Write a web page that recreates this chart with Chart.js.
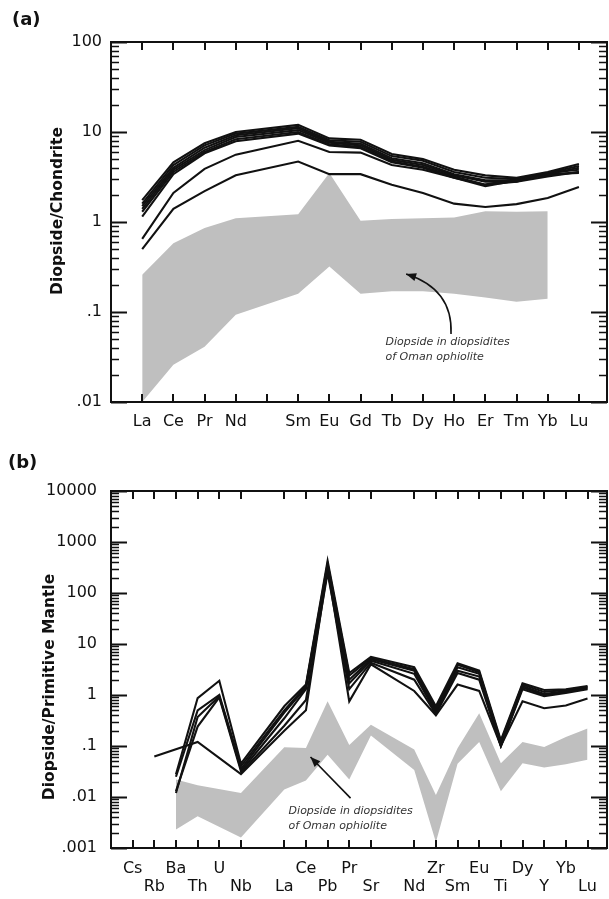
<!DOCTYPE html>
<html><head><meta charset="utf-8">
<script src="https://cdn.jsdelivr.net/npm/chart.js@4/dist/chart.umd.min.js"></script>
<style>
html,body{margin:0;padding:0;background:#fff;}
#wrap{position:relative;width:609px;height:899px;overflow:hidden;}
.box{position:absolute;left:0;width:609px;}
</style></head><body>
<div id="wrap">
<div class="box" style="top:0;height:450px"><canvas id="ca" width="609" height="450"></canvas></div>
<div class="box" style="top:450px;height:449px"><canvas id="cb" width="609" height="449"></canvas></div>
</div>
<script>
// ---------- Panel (a): chondrite-normalised REE ----------
const reeCategories = ['La','Ce','Pr','Nd','Pm','Sm','Eu','Gd','Tb','Dy','Ho','Er','Tm','Yb','Lu'];
const reeTickLabels = ['La','Ce','Pr','Nd','','Sm','Eu','Gd','Tb','Dy','Ho','Er','Tm','Yb','Lu'];
const reeYTicks = [0.01, 0.1, 1, 10, 100];
const reeYTickLabels = ['.01', '.1', '1', '10', '100'];
const ree1 = [1.75, 4.6, 7.5, 10.0, null, 12.0, 8.5, 8.2, 5.7, 5.0, 3.8, 3.3, 3.1, 3.6, 4.4];
const ree2 = [1.6, 4.3, 7.1, 9.6, null, 11.4, 8.1, 7.8, 5.4, 4.8, 3.6, 3.1, 3.0, 3.5, 4.2];
const ree3 = [1.5, 4.0, 6.7, 9.2, null, 11.0, 7.8, 7.4, 5.1, 4.5, 3.4, 2.9, 2.9, 3.4, 4.0];
const ree4 = [1.4, 3.8, 6.3, 8.8, null, 10.5, 7.6, 7.1, 4.9, 4.3, 3.3, 2.8, 2.8, 3.5, 3.8];
const ree5 = [1.3, 3.6, 6.0, 8.3, null, 10.0, 7.3, 6.8, 4.7, 4.1, 3.2, 2.6, 3.0, 3.3, 3.6];
const ree6 = [1.15, 3.4, 5.8, 7.9, null, 9.6, 7.1, 6.6, 4.6, 4.0, 3.1, 2.5, 2.9, 3.4, 3.5];
const ree7 = [0.65, 2.1, 3.9, 5.6, null, 8.0, 6.0, 5.9, 4.3, 3.8, 3.1, 2.6, 2.8, 3.2, 3.6];
const ree8 = [0.5, 1.4, 2.2, 3.3, null, 4.7, 3.4, 3.4, 2.6, 2.1, 1.6, 1.47, 1.58, 1.85, 2.45];
const reeBandUpper = [0.26, 0.58, 0.86, 1.1, null, 1.22, 3.5, 1.03, 1.08, 1.1, 1.12, 1.32, 1.3, 1.32, null];
const reeBandLower = [0.01, 0.026, 0.041, 0.093, null, 0.16, 0.32, 0.16, 0.17, 0.17, 0.16, 0.145, 0.13, 0.14, null];

// ---------- Panel (b): primitive-mantle-normalised spider ----------
const pmCategories = ['Cs','Rb','Ba','Th','U','Nb','','La','Ce','Pb','Pr','Sr','','Nd','Zr','Sm','Eu','Ti','Dy','Y','Yb','Lu'];
const pmLabelRow = [1,2,1,2,1,2,0,2,1,2,1,2,0,2,1,2,1,2,1,2,1,2];
const pmYTicks = [0.001, 0.01, 0.1, 1, 10, 100, 1000, 10000];
const pmYTickLabels = ['.001', '.01', '.1', '1', '10', '100', '1000', '10000'];
const pm1 = [null, null, 0.028, 0.87, 1.9, 0.045, null, 0.6, 1.6, 430, 2.7, 5.6, null, 3.5, 0.6, 4.2, 3.0, 0.13, 1.7, 1.25, 1.3, 1.5];
const pm2 = [null, null, 0.025, 0.5, 1.0, 0.04, null, 0.5, 1.5, 380, 2.4, 5.3, null, 3.2, 0.55, 3.9, 2.8, 0.12, 1.6, 1.15, 1.25, 1.45];
const pm3 = [null, null, 0.012, 0.37, 0.95, 0.035, null, 0.45, 1.4, 330, 2.0, 5.0, null, 3.0, 0.5, 3.5, 2.6, 0.11, 1.5, 1.05, 1.2, 1.4];
const pm4 = [null, null, 0.013, 0.24, 0.9, 0.032, null, 0.35, 1.3, 290, 1.7, 4.7, null, 2.6, 0.45, 3.0, 2.3, 0.1, 1.4, 1.0, 1.15, 1.35];
const pm5 = [null, null, null, null, null, 0.03, null, 0.25, 0.8, 250, 1.3, 4.3, null, 2.0, 0.42, 2.7, 2.0, 0.1, 1.3, 0.95, 1.1, 1.3];
const pm6 = [null, 0.062, null, 0.12, null, 0.028, null, 0.2, 0.5, 300, 0.75, 4.0, null, 1.2, 0.4, 1.6, 1.2, 0.1, 0.75, 0.55, 0.62, 0.85];
const pmBandUpper = [null, null, 0.022, 0.017, null, 0.012, null, 0.095, 0.091, 0.75, 0.105, 0.26, null, 0.085, 0.011, 0.09, 0.44, 0.046, 0.12, 0.096, 0.15, 0.22];
const pmBandLower = [null, null, 0.0023, 0.0042, null, 0.0016, null, 0.014, 0.021, 0.067, 0.022, 0.16, null, 0.034, 0.0013, 0.045, 0.12, 0.013, 0.046, 0.038, 0.044, 0.054];

const noteLines = ['Diopside in diopsidites', 'of Oman ophiolite'];

// ---------- helpers ----------
const FONT = '"DejaVu Sans", "Liberation Sans", Arial, sans-serif';
const INK = '#111111';
const BAND = '#bfbfbf';

function pts(arr) { return arr.map((v, i) => ({x: i, y: v})); }

function lineSet(arrays) {
  return arrays.map(a => ({
    data: pts(a), borderColor: INK, borderWidth: 2.1, pointRadius: 0,
    tension: 0, spanGaps: true, fill: false, order: 0
  }));
}
function bandSet(upper, lower) {
  return [
    {data: pts(upper), borderWidth: 0, borderColor: 'rgba(0,0,0,0)', backgroundColor: BAND,
     pointRadius: 0, tension: 0, spanGaps: true, fill: '+1', order: 5},
    {data: pts(lower), borderWidth: 0, borderColor: 'rgba(0,0,0,0)', backgroundColor: BAND,
     pointRadius: 0, tension: 0, spanGaps: true, fill: false, order: 5}
  ];
}

const frameTicks = {
  id: 'frameTicks',
  afterDatasetsDraw(chart, args, o) {
    const {ctx, chartArea: a} = chart;
    const x = chart.scales.x, y = chart.scales.y;
    ctx.save();
    ctx.strokeStyle = INK;
    ctx.lineCap = 'butt';
    ctx.lineWidth = 2;
    ctx.beginPath();
    o.xTicks.forEach(v => {
      const px = Math.round(x.getPixelForValue(v));
      ctx.moveTo(px, a.bottom); ctx.lineTo(px, a.bottom - o.xLen);
      ctx.moveTo(px, a.top); ctx.lineTo(px, a.top + o.xLen);
    });
    ctx.stroke();
    const lo = Math.round(Math.log10(y.min)), hi = Math.round(Math.log10(y.max));
    for (let e = lo; e <= hi; e++) {
      for (let m = 1; m <= 9; m++) {
        const v = m * Math.pow(10, e);
        if (v > y.max * 1.0001) break;
        const py = Math.round(y.getPixelForValue(v)) + 0.5;
        const major = m === 1;
        const len = major ? o.majorLen : o.minorLen;
        ctx.lineWidth = major ? 2 : 1.6;
        ctx.beginPath();
        ctx.moveTo(a.left, py); ctx.lineTo(a.left + len, py);
        ctx.moveTo(a.right, py); ctx.lineTo(a.right - len, py);
        ctx.stroke();
      }
    }
    ctx.lineWidth = 2;
    ctx.strokeRect(a.left, a.top, a.right - a.left, a.bottom - a.top);
    ctx.restore();
  }
};

const panelText = {
  id: 'panelText',
  afterDraw(chart, args, o) {
    const ctx = chart.ctx;
    const x = chart.scales.x, y = chart.scales.y;
    ctx.save();
    ctx.fillStyle = INK;
    ctx.textBaseline = 'middle';
    ctx.textAlign = 'left';
    ctx.font = 'bold 18px ' + FONT;
    ctx.fillText(o.panel, o.panelX, o.panelY);
    // axis title
    ctx.save();
    ctx.translate(o.titleX, o.titleY);
    ctx.rotate(-Math.PI / 2);
    ctx.textAlign = 'center';
    ctx.font = 'bold 15.5px ' + FONT;
    ctx.fillText(o.title, 0, 0);
    ctx.restore();
    // note text
    ctx.fillStyle = '#333';
    ctx.font = 'italic 11px ' + FONT;
    const tx = x.getPixelForValue(o.noteX);
    const ty = y.getPixelForValue(o.noteY);
    noteLines.forEach((t, i) => ctx.fillText(t, tx, ty + i * 15));
    // arrow
    const ax0 = x.getPixelForValue(o.arrowFrom[0]), ay0 = y.getPixelForValue(o.arrowFrom[1]);
    const ax1 = x.getPixelForValue(o.arrowTo[0]), ay1 = y.getPixelForValue(o.arrowTo[1]);
    const cx = ax0 + o.bend[0], cy = ay0 + o.bend[1];
    ctx.strokeStyle = INK;
    ctx.fillStyle = INK;
    ctx.lineWidth = 1.6;
    ctx.beginPath();
    ctx.moveTo(ax0, ay0);
    if (o.curved) ctx.quadraticCurveTo(cx, cy, ax1, ay1); else ctx.lineTo(ax1, ay1);
    ctx.stroke();
    const fx = o.curved ? cx : ax0, fy = o.curved ? cy : ay0;
    const ang = Math.atan2(ay1 - fy, ax1 - fx);
    const L = 10, W = 4;
    ctx.beginPath();
    ctx.moveTo(ax1, ay1);
    ctx.lineTo(ax1 - L * Math.cos(ang) + W * Math.sin(ang), ay1 - L * Math.sin(ang) - W * Math.cos(ang));
    ctx.lineTo(ax1 - L * Math.cos(ang) - W * Math.sin(ang), ay1 - L * Math.sin(ang) + W * Math.cos(ang));
    ctx.closePath();
    ctx.fill();
    ctx.restore();
  }
};

function makeChart(canvasId, cfg) {
  return new Chart(document.getElementById(canvasId), {
    type: 'line',
    data: {datasets: [...lineSet(cfg.lines), ...bandSet(cfg.bandUpper, cfg.bandLower)]},
    plugins: [frameTicks, panelText],
    options: {
      responsive: false,
      animation: false,
      devicePixelRatio: 1,
      layout: {padding: {top: cfg.top, right: 2, left: 0, bottom: 0}},
      plugins: {
        legend: {display: false},
        tooltip: {enabled: false},
        frameTicks: {xTicks: cfg.xTickValues, xLen: 8, majorLen: 16, minorLen: 8},
        panelText: cfg.text
      },
      scales: {
        x: {
          type: 'linear', min: -1, max: cfg.xMax,
          grid: {display: false, drawTicks: false},
          border: {display: false},
          afterBuildTicks: s => { s.ticks = cfg.xTickValues.map(v => ({value: v})); },
          afterFit: s => { s.height = cfg.xHeight; },
          ticks: {
            autoSkip: false, maxRotation: 0, minRotation: 0,
            padding: cfg.xPad, color: INK,
            font: {family: FONT, size: 16, lineHeight: cfg.xLineHeight},
            callback: cfg.xLabel
          }
        },
        y: {
          type: 'logarithmic', min: cfg.yTicks[0], max: cfg.yTicks[cfg.yTicks.length - 1],
          grid: {display: false, drawTicks: false},
          border: {display: false},
          afterBuildTicks: s => { s.ticks = cfg.yTicks.map(v => ({value: v, major: true})); },
          afterFit: s => { s.width = 111; },
          ticks: {
            padding: cfg.yPad, color: INK,
            font: {family: FONT, size: 16},
            callback: v => {
              const i = cfg.yTicks.findIndex(t => Math.abs(Math.log10(t) - Math.log10(v)) < 1e-6);
              return i >= 0 ? cfg.yLabels[i] : '';
            }
          }
        }
      }
    }
  });
}

makeChart('ca', {
  lines: [ree1, ree2, ree3, ree4, ree5, ree6, ree7, ree8],
  bandUpper: reeBandUpper, bandLower: reeBandLower,
  xTickValues: reeCategories.map((c, i) => i),
  xMax: 14.9, xHeight: 48, xPad: 10, xLineHeight: 1.2, top: 42,
  xLabel: v => reeTickLabels[Math.round(v)],
  yTicks: reeYTicks, yLabels: reeYTickLabels, yPad: 9,
  text: {panel: '(a)', panelX: 12, panelY: 20, title: 'Diopside/Chondrite', titleX: 58, titleY: 211,
         noteX: 7.8, noteY: 0.046, arrowFrom: [9.9, 0.057], arrowTo: [8.46, 0.264],
         curved: true, bend: [2, -45]}
});

makeChart('cb', {
  lines: [pm1, pm2, pm3, pm4, pm5, pm6],
  bandUpper: pmBandUpper, bandLower: pmBandLower,
  xTickValues: pmCategories.map((c, i) => i).filter(i => pmLabelRow[i] > 0),
  xMax: 21.9, xHeight: 51, xPad: 12, xLineHeight: 1.125, top: 41,
  xLabel: v => {
    const i = Math.round(v);
    return pmLabelRow[i] === 1 ? [pmCategories[i], ''] : ['', pmCategories[i]];
  },
  yTicks: pmYTicks, yLabels: pmYTickLabels, yPad: 14,
  text: {panel: '(b)', panelX: 8, panelY: 13, title: 'Diopside/Primitive Mantle', titleX: 50, titleY: 237,
         noteX: 7.2, noteY: 0.0053, arrowFrom: [10.06, 0.0095], arrowTo: [8.21, 0.061],
         curved: false, bend: [0, 0]}
});
</script>
</body></html>
